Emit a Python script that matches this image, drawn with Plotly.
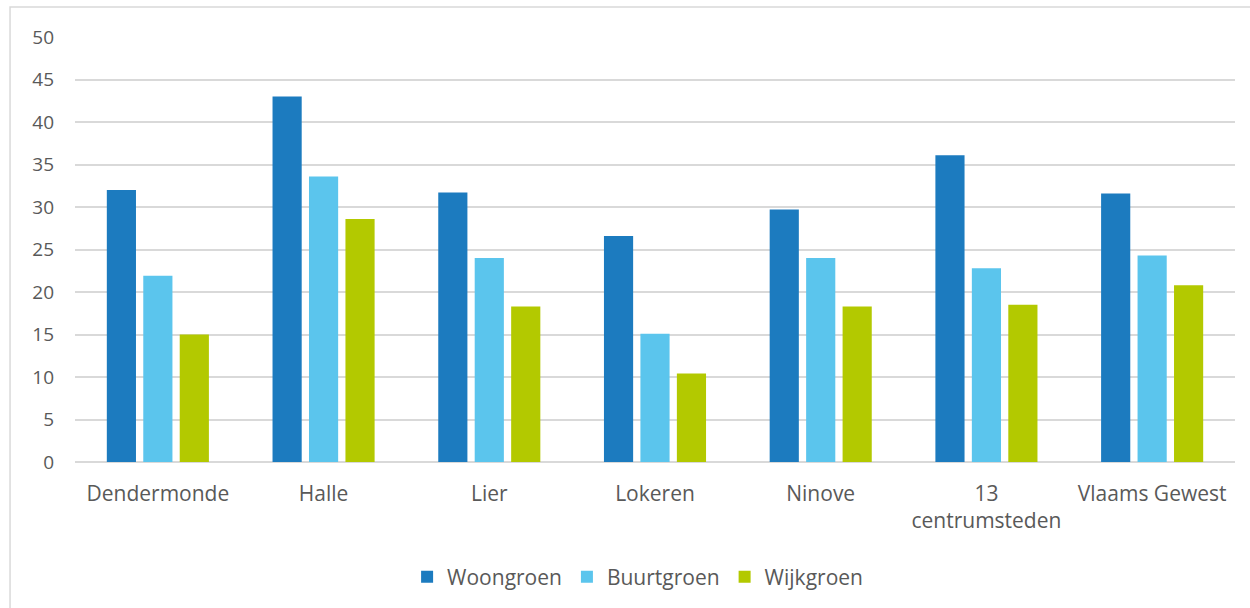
import plotly.graph_objects as go

categories = ["Dendermonde", "Halle", "Lier", "Lokeren", "Ninove", "13<br>centrumsteden", "Vlaams Gewest"]
woongroen = [32.0, 43.0, 31.7, 26.6, 29.7, 36.1, 31.6]
buurtgroen = [21.9, 33.6, 24.0, 15.1, 24.0, 22.8, 24.3]
wijkgroen = [15.0, 28.6, 18.3, 10.4, 18.3, 18.5, 20.8]
y_ticks = [0, 5, 10, 15, 20, 25, 30, 35, 40, 45, 50]

series = [("Woongroen", woongroen, "#1c7bbf"),
          ("Buurtgroen", buurtgroen, "#5bc5ed"),
          ("Wijkgroen", wijkgroen, "#b3c900")]

FONT = "Open Sans"
fig = go.Figure()
for name, vals, col in series:
    fig.add_trace(go.Bar(x=categories, y=vals, name=name, marker=dict(color=col, line=dict(width=0))))

fig.update_layout(
    width=1250, height=608,
    margin=dict(l=75, r=15, t=37, b=145),
    paper_bgcolor="white", plot_bgcolor="white",
    barmode="group", bargap=0.34, bargroupgap=0.2,
    font=dict(family=FONT, size=20, color="#595959"),
    showlegend=True,
    legend=dict(orientation="h", x=0.485, xanchor="center", y=-0.268, yanchor="middle",
                font=dict(size=21, color="#595959"), itemwidth=30, traceorder="normal"),
    xaxis=dict(showgrid=False, showline=False, ticks="", tickfont=dict(size=21), ticklabelstandoff=17),
    yaxis=dict(range=[0, 50], tickvals=y_ticks, showgrid=True, gridcolor="#d9d9d9", gridwidth=1.5,
               zeroline=True, zerolinecolor="#d9d9d9", zerolinewidth=1.5, ticks="",
               tickfont=dict(size=19), ticklabelstandoff=20),
    shapes=[dict(type="rect", xref="paper", yref="paper", x0=-0.056, x1=1.1, y0=-0.5, y1=1.0704,
                 line=dict(color="#d9d9d9", width=1.5), fillcolor="rgba(0,0,0,0)", layer="below")],
)
fig.write_html("out.html", config={"displayModeBar": False},
               post_script="document.body.style.margin='0';")
